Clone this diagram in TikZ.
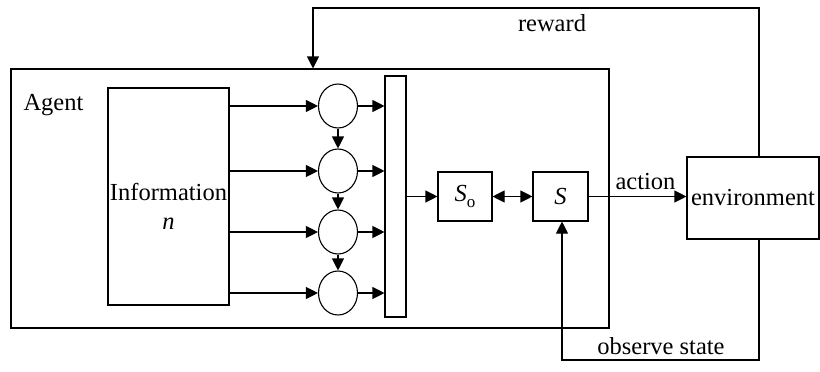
\documentclass[tikz,border=0pt]{standalone}
\usepackage{fontspec}
\setmainfont{Liberation Serif}
\usetikzlibrary{arrows.meta,shapes.geometric,calc}
\begin{document}
\begin{tikzpicture}[x=1pt,y=-1pt,
  line width=1.1pt,
  font=\fontsize{24.5}{28}\selectfont,
  box/.style={draw,rectangle,inner sep=0pt},
  neuron/.style={draw,ellipse,minimum width=39pt,minimum height=44pt,inner sep=0pt},
  lbl/.style={inner sep=0pt},
  tip/.style={-{Triangle[length=12pt,width=12pt]}},
  dtip/.style={{Triangle[length=12pt,width=12pt]}-{Triangle[length=12pt,width=12pt]}}]
\useasboundingbox (0,0) rectangle (820,372);
\node[box,minimum width=598pt,minimum height=259pt] (agent) at (310,198.5) {};
\node[lbl,anchor=base west] (agentlbl) at (23,110) {Agent};
\node[box,minimum width=121pt,minimum height=217pt] (info) at (168.5,196.5) {};
\node[lbl] (infotxt) at (168.5,192) {Information};
\node[lbl] (infon) at (168.5,224) {\itshape n};
\node[neuron] (c1) at (338,106) {};
\node[neuron] (c2) at (338,171) {};
\node[neuron] (c3) at (338,232) {};
\node[neuron] (c4) at (338,293) {};
\node[box,minimum width=21pt,minimum height=241pt] (bar) at (395.5,196.5) {};
\node[box,minimum width=54pt,minimum height=49pt] (so) at (465,196.5) {{\itshape S}\raisebox{-0.45ex}{\fontsize{17}{19}\selectfont o}};
\node[box,minimum width=55pt,minimum height=49pt] (s) at (560.5,196.5) {\itshape S};
\node[box,minimum width=132pt,minimum height=82pt] (env) at (753,198) {environment};
% info to neurons
\foreach \i in {1,...,4} {
  \draw[tip] (info.east |- c\i.west) -- (c\i.west);
  \draw[tip] (c\i.east) -- (bar.west |- c\i.east);
}
\draw[tip] (c1.south) -- (c2.north);
\draw[tip] (c2.south) -- (c3.north);
\draw[tip] (c3.south) -- (c4.north);
\draw[tip] (bar.east |- so.west) -- (so.west);
\draw[dtip] (so.east) -- (s.west);
\draw[tip] (s.east) -- node[lbl,above=6pt,xshift=8pt] (actlbl) {action} (env.west |- s.east);
% reward loop
\coordinate (r1) at (759,8);
\coordinate (r2) at (313,8);
\draw[tip] (env.north -| r1) -- (r1) -- (r2) -- (r2 |- agent.north);
\node[lbl] (rewlbl) at (552,23) {reward};
% observe state loop
\coordinate (o1) at (759,360);
\coordinate (o2) at (562,360);
\draw[tip] (env.south -| o1) -- (o1) -- (o2) -- (o2 |- s.south);
\node[lbl] (obslbl) at (661,346) {observe state};
\end{tikzpicture}
\end{document}
